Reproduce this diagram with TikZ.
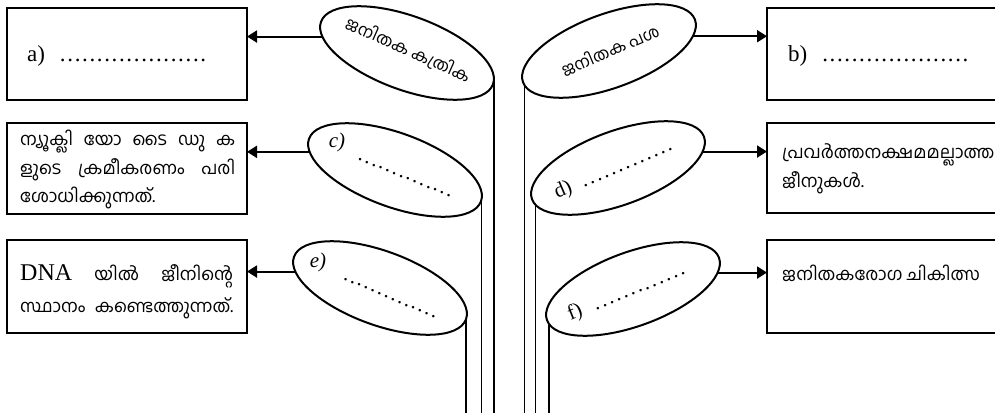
\documentclass[tikz,border=0pt]{standalone}
\usepackage{fontspec}
\setmainfont{Liberation Serif}
\newfontfamily\mal[Script=Malayalam]{Hind Kochi}
\usetikzlibrary{arrows.meta,shapes.geometric}
\newcommand\dotrow[1]{\hbox to #1{\xleaders\hbox to 7.2pt{\hss.\hss}\hfill}}
\tikzset{
  box/.style={draw, line width=2.3pt, rectangle, inner sep=0pt, outer sep=0pt},
  oval/.style={draw, ellipse, line width=2pt, minimum width=183pt, minimum height=74pt, inner sep=0pt, outer sep=0pt},
  arr/.style={line width=2pt, -{Triangle[length=10pt,width=12pt]}},
  vline/.style={line width=1.8pt},
  mline/.style={font=\mal\fontsize{17.5}{20}\selectfont, inner sep=0pt, anchor=base west},
  otext/.style={font=\mal\fontsize{16.5}{19}\selectfont, inner sep=0pt},
  latin/.style={font=\fontsize{23}{26}\selectfont, inner sep=0pt, anchor=base west},
  lbl/.style={font=\fontsize{21}{24}\selectfont, inner sep=0pt},
  dots/.style={font=\fontsize{21}{24}\selectfont, inner sep=0pt}
}
\begin{document}
\begin{tikzpicture}[x=1pt,y=-1pt]
\path[use as bounding box] (0,0) rectangle (995,412);
\clip (0,0) rectangle (995,412);
\coordinate (bot) at (0,414);
% boxes
\node[box, minimum width=240pt, minimum height=92pt] (boxa) at (127,54) {};
\node[box, minimum width=243pt, minimum height=92pt] (boxb) at (888.5,54) {};
\node[box, minimum width=240pt, minimum height=91pt] (boxc) at (127,168.5) {};
\node[box, minimum width=243pt, minimum height=90pt] (boxd) at (888.5,168) {};
\node[box, minimum width=240pt, minimum height=93pt] (boxe) at (127,286.5) {};
\node[box, minimum width=243pt, minimum height=93pt] (boxf) at (888.5,286.5) {};
% ovals
\node[oval, rotate=-20] (e1) at (407,53) {};
\node[oval, rotate=20] (e2) at (609,51) {};
\node[oval, rotate=-20] (ec) at (395,170) {};
\node[oval, rotate=20] (ed) at (618,168) {};
\node[oval, rotate=-20] (ee) at (380,288) {};
\node[oval, rotate=20] (ef) at (633,289) {};
% oval texts
\node[otext, rotate=-24] (t1) at (408,50) {ജനിതക കത്രിക};
\node[otext, rotate=23] (t2) at (610,50) {ജനിതക പശ};
\node[lbl] (lc) at (337,142) {\textit{c)}};
\node[dots, rotate=-22] (dc) at (404.5,177.5) {\dotrow{103pt}};
\node[lbl] (le) at (318,262) {\textit{e)}};
\node[dots, rotate=-23] (de) at (389.5,298) {\dotrow{103pt}};
\node[lbl, rotate=23] (ld) at (614,169) {d)\hspace{10pt}\dotrow{100pt}};
\node[lbl, rotate=22] (lf) at (627,292) {f)\hspace{12pt}\dotrow{100pt}};
% box texts
\node[latin] (ta) at (27,62) {a)\hspace{14pt}\dotrow{148pt}};
\node[latin] (tb) at (788,62) {b)\hspace{14pt}\dotrow{148pt}};
\node[mline] (c1) at (20,145) {\hbox to 215pt{ന്യൂക്ലി\hfil യോ\hfil ടൈ\hfil ഡു\hfil ക}};
\node[mline] (c2) at (20,174) {\hbox to 215pt{ളുടെ\hfil ക്രമീകരണം\hfil പരി}};
\node[mline] (c3) at (20,202) {ശോധിക്കുന്നത്.};
\node[mline] (d1) at (782,158) {പ്രവർത്തനക്ഷമമല്ലാത്ത};
\node[mline] (d2) at (782,187) {ജീനുകൾ.};
\node[mline] (e1t) at (20,280) {\hbox to 213pt{{\fontspec{Liberation Serif}\fontsize{24}{26}\selectfont DNA}\hfil യിൽ\hfil ജീനിന്റെ}};
\node[mline] (e2t) at (20,312) {\hbox to 213pt{സ്ഥാനം\hfil കണ്ടെത്തുന്നത്.}};
\node[mline] (f1) at (782,280) {ജനിതകരോഗ ചികിത്സ};
% arrows
\draw[arr] (e1.189) -- (e1.189 -| boxa.east);
\draw[arr] (ec.188) -- (ec.188 -| boxc.east);
\draw[arr] (ee.189) -- (ee.189 -| boxe.east);
\draw[arr] (e2.350) -- (e2.350 -| boxb.west);
\draw[arr] (ed.351) -- (ed.351 -| boxd.west);
\draw[arr] (ef.351) -- (ef.351 -| boxf.west);
% vertical lines
\draw[vline] (e1.2) -- (e1.2 |- bot);
\draw[vline] (ec.1) -- (ec.1 |- bot);
\draw[vline] (ee.0) -- (ee.0 |- bot);
\draw[vline] (e2.182) -- (e2.182 |- bot);
\draw[vline] (ed.184) -- (ed.184 |- bot);
\draw[vline] (ef.183) -- (ef.183 |- bot);
\end{tikzpicture}
\end{document}
